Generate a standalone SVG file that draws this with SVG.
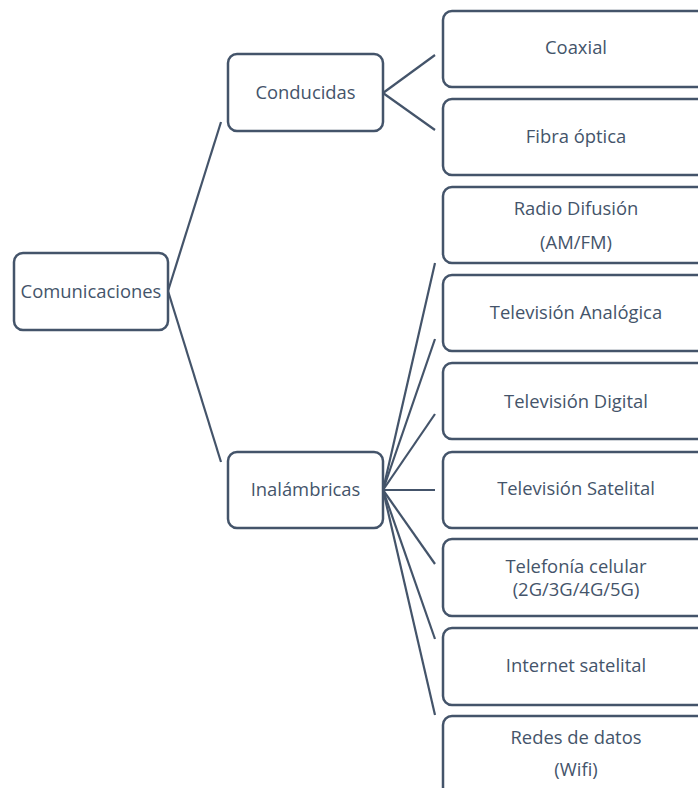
<svg xmlns="http://www.w3.org/2000/svg" width="698" height="788" viewBox="0 0 698 788">
<style>
.box{fill:#fff;stroke:#44546A;stroke-width:2.5}
.t{font-family:"Open Sans","Noto Sans",sans-serif;font-size:18.4px;fill:#44546A;text-anchor:middle;dominant-baseline:central}
.c{stroke:#44546A;stroke-width:2.2;fill:none}
</style>
<rect width="698" height="788" fill="#fff"/>
<g id="connectors">
<line class="c" x1="168" y1="291" x2="221" y2="122"/>
<line class="c" x1="168" y1="291" x2="221" y2="462"/>
<line class="c" x1="383" y1="93" x2="435" y2="55"/>
<line class="c" x1="383" y1="93" x2="435" y2="130"/>
<line class="c" x1="383" y1="490" x2="435" y2="263"/>
<line class="c" x1="383" y1="490" x2="435" y2="339"/>
<line class="c" x1="383" y1="490" x2="435" y2="414"/>
<line class="c" x1="383" y1="490" x2="435" y2="490"/>
<line class="c" x1="383" y1="490" x2="435" y2="564"/>
<line class="c" x1="383" y1="490" x2="435" y2="639"/>
<line class="c" x1="383" y1="490" x2="435" y2="715"/>
</g>
<g id="comunicaciones"><rect class="box" x="14" y="253" width="154" height="77" rx="9"/><text class="t" x="91" y="290.5">Comunicaciones</text></g>
<g id="conducidas"><rect class="box" x="228" y="54" width="155" height="77" rx="9"/><text class="t" x="305.5" y="91.5">Conducidas</text></g>
<g id="inalambricas"><rect class="box" x="228" y="452" width="155" height="76" rx="9"/><text class="t" x="305.5" y="488.5">Inalámbricas</text></g>
<g id="coaxial"><rect class="box" x="443" y="11" width="266" height="76" rx="9"/><text class="t" x="576" y="46.5">Coaxial</text></g>
<g id="fibra"><rect class="box" x="443" y="99" width="266" height="76" rx="9"/><text class="t" x="576" y="135.5">Fibra óptica</text></g>
<g id="radio"><rect class="box" x="443" y="187" width="266" height="76" rx="9"/><text class="t" x="576" y="207.5">Radio Difusión</text><text class="t" x="576" y="241.5">(AM/FM)</text></g>
<g id="tvanalogica"><rect class="box" x="443" y="275" width="266" height="76" rx="9"/><text class="t" x="576" y="311.5">Televisión Analógica</text></g>
<g id="tvdigital"><rect class="box" x="443" y="363" width="266" height="76" rx="9"/><text class="t" x="576" y="400.5">Televisión Digital</text></g>
<g id="tvsatelital"><rect class="box" x="443" y="452" width="266" height="76" rx="9"/><text class="t" x="576" y="487.5">Televisión Satelital</text></g>
<g id="telefonia"><rect class="box" x="443" y="539" width="266" height="77" rx="9"/><text class="t" x="576" y="565.5">Telefonía celular</text><text class="t" x="576" y="588.5">(2G/3G/4G/5G)</text></g>
<g id="internet"><rect class="box" x="443" y="628" width="266" height="77" rx="9"/><text class="t" x="576" y="664.5">Internet satelital</text></g>
<g id="redes"><rect class="box" x="443" y="716" width="266" height="80" rx="9"/><text class="t" x="576" y="736.5">Redes de datos</text><text class="t" x="576" y="768.5">(Wifi)</text></g>
</svg>
